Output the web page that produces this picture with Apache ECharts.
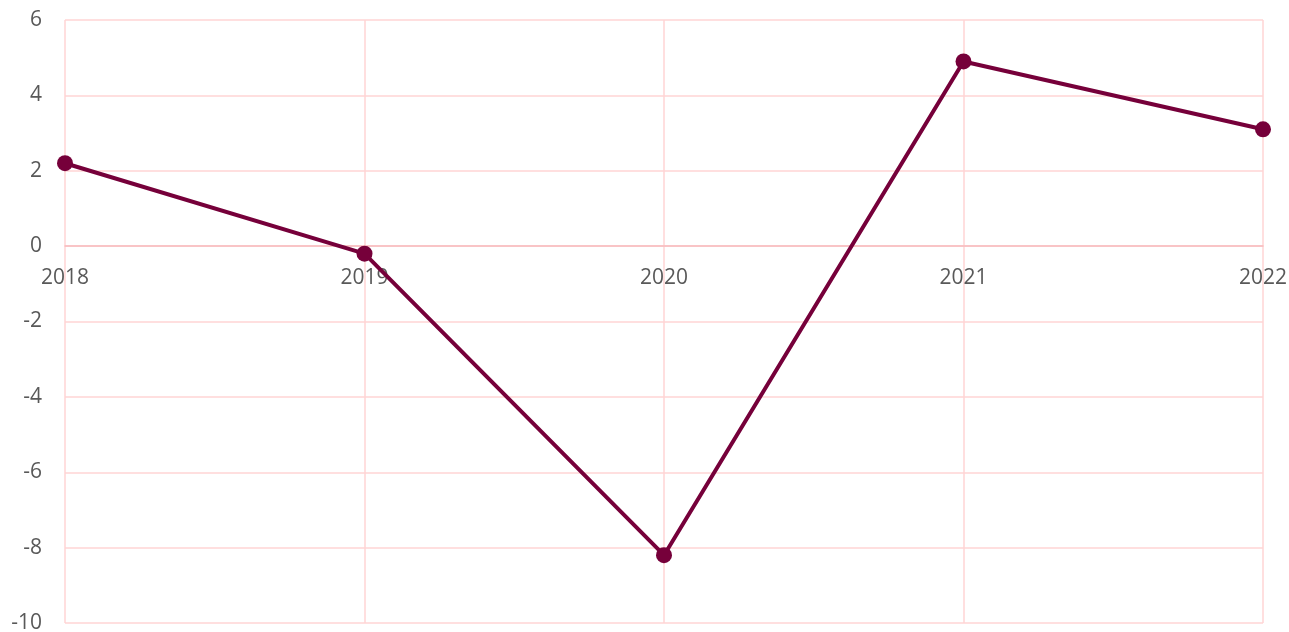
<!DOCTYPE html>
<html>
<head>
<meta charset="utf-8">
<script src="https://cdn.jsdelivr.net/npm/echarts@6/dist/echarts.min.js"></script>
<style>
  html, body { margin: 0; padding: 0; background: #fff; }
  #chart { width: 1289px; height: 632px; }
</style>
</head>
<body>
<div id="chart"></div>
<script>
const years = ["2018", "2019", "2020", "2021", "2022"];
const values = [2.2, -0.2, -8.2, 4.9, 3.1];
const yTicks = { min: -10, max: 6, interval: 2 };

const gridTop = 20;
const gridBottom = 9;
const plotHeight = 632 - gridTop - gridBottom;
// axisLine.onZero doesn't kick in here, so lift the category axis to y = 0 by hand
const zeroOffset = -plotHeight * (0 - yTicks.min) / (yTicks.max - yTicks.min);

const chart = echarts.init(document.getElementById("chart"));

const options = {
  animation: false,
  grid: { left: 65, right: 26, top: gridTop, bottom: gridBottom, containLabel: false, outerBoundsMode: "none" },
  textStyle: { fontFamily: "'Open Sans', Lato, sans-serif" },
  xAxis: {
    type: "category",
    data: years,
    boundaryGap: false,
    offset: zeroOffset,
    axisLine: { show: true, onZero: false, lineStyle: { color: "#F8BCBE", width: 1.5 } },
    axisTick: { show: false },
    axisLabel: { color: "#595959", fontSize: 21, margin: 21 },
    splitLine: { show: true, lineStyle: { color: "#FFD4D5", width: 1.5 } },
  },
  yAxis: {
    type: "value",
    min: yTicks.min,
    max: yTicks.max,
    interval: yTicks.interval,
    axisLine: { show: false },
    axisTick: { show: false },
    axisLabel: { color: "#595959", fontSize: 21, margin: 23 },
    splitLine: { lineStyle: { color: "#FFD4D5", width: 1.5 } },
  },
  series: [
    {
      type: "line",
      data: values,
      symbol: "circle",
      symbolSize: 16,
      lineStyle: { color: "#76003A", width: 4 },
      itemStyle: { color: "#76003A" },
    },
  ],
};

chart.setOption(options);
</script>
</body>
</html>
